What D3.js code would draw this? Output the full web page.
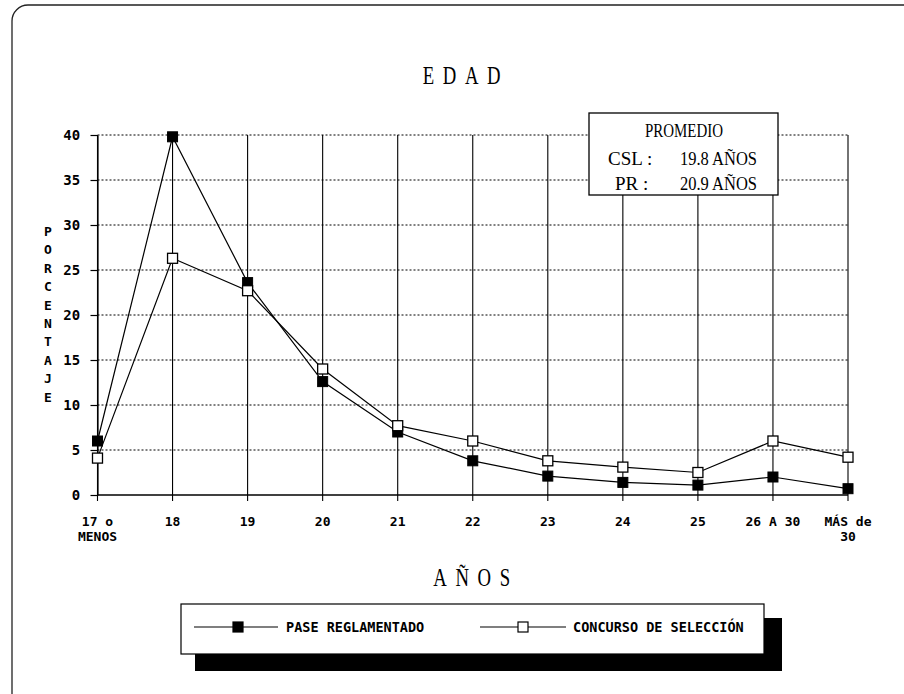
<!DOCTYPE html>
<html>
<head>
<meta charset="utf-8">
<script src="https://cdn.jsdelivr.net/npm/d3@7/dist/d3.min.js"></script>
<style>
  body { margin: 0; background: #fff; }
  svg { display: block; }
</style>
</head>
<body>
<svg id="chart" width="904" height="694"></svg>
<script>
// ---- data ----
const categoryLabels = [["17 o", "MENOS"], ["18"], ["19"], ["20"], ["21"], ["22"], ["23"], ["24"], ["25"], ["26 A 30"], ["MÁS de", "30"]];
const paseReglamentado = [6.0, 39.8, 23.6, 12.6, 7.0, 3.8, 2.1, 1.4, 1.1, 2.0, 0.7];
const concursoSeleccion = [4.1, 26.3, 22.7, 14.0, 7.7, 6.0, 3.8, 3.1, 2.5, 6.0, 4.2];
const yTicks = [0, 5, 10, 15, 20, 25, 30, 35, 40];
const seriesNames = ["PASE REGLAMENTADO", "CONCURSO DE SELECCIÓN"];
const titleText = "EDAD";
const xTitleText = "AÑOS";
const yTitleText = "PORCENTAJE";
const promedioLines = [["PROMEDIO"], ["CSL :", "19.8 AÑOS"], ["PR :", "20.9 AÑOS"]];

const svg = d3.select("#chart");
const labelFont = "'DejaVu Sans Mono', monospace";
const serifFont = "'Liberation Serif', 'DejaVu Serif', serif";

// outer rounded frame
svg.append("rect").attr("x", 12).attr("y", 5).attr("width", 940).attr("height", 740)
  .attr("rx", 16).attr("fill", "none").attr("stroke", "#222").attr("stroke-width", 1.3);

const idx = categoryLabels.map((d, i) => i);
const x = d3.scalePoint().domain(idx).range([97.5, 848]);
const y = d3.scaleLinear().domain([0, 40]).range([495, 135]);

const g = svg.append("g");

// horizontal dotted gridlines
g.selectAll("line.hgrid").data(yTicks.filter(t => t > 0)).join("line")
  .attr("x1", x(0)).attr("x2", x(idx.length - 1))
  .attr("y1", d => y(d)).attr("y2", d => y(d))
  .attr("stroke", "#000").attr("stroke-width", 1).attr("stroke-dasharray", "2,2");

// vertical solid lines
g.selectAll("line.vgrid").data(idx).join("line")
  .attr("x1", d => x(d)).attr("x2", d => x(d))
  .attr("y1", y(40)).attr("y2", y(0) + 6)
  .attr("stroke", "#000").attr("stroke-width", 1.1);

// y axis
const yAxis = d3.axisLeft(y).tickValues(yTicks).tickSize(7).tickSizeOuter(0).tickPadding(9);
const ya = svg.append("g").attr("transform", `translate(${x(0)},0)`).call(yAxis);
ya.select(".domain").attr("stroke", "#000").attr("stroke-width", 1.2);
ya.selectAll(".tick line").attr("stroke", "#000").attr("stroke-width", 1.2);
ya.selectAll(".tick text").attr("font-family", labelFont).attr("font-weight", "bold")
  .attr("font-size", 14).attr("fill", "#000").attr("dx", "-0.1em");

// x axis baseline
svg.append("line").attr("x1", x(0)).attr("x2", x(idx.length - 1))
  .attr("y1", y(0)).attr("y2", y(0)).attr("stroke", "#000").attr("stroke-width", 1.3);

// x tick labels (one text element per line)
const xl = svg.append("g");
idx.forEach(i => {
  categoryLabels[i].forEach((line, k) => {
    xl.append("text").attr("x", x(i)).attr("y", 526 + k * 15)
      .attr("text-anchor", "middle").attr("font-family", labelFont)
      .attr("font-weight", "bold").attr("font-size", 13).attr("fill", "#000").text(line);
  });
});

// lines
const lineGen = d3.line().x((d, i) => x(i)).y(d => y(d));
svg.append("path").datum(paseReglamentado).attr("d", lineGen)
  .attr("fill", "none").attr("stroke", "#000").attr("stroke-width", 1.2);
svg.append("path").datum(concursoSeleccion).attr("d", lineGen)
  .attr("fill", "none").attr("stroke", "#000").attr("stroke-width", 1.2);

const ms = 10;
svg.selectAll("rect.pr").data(paseReglamentado).join("rect")
  .attr("x", (d, i) => x(i) - ms / 2).attr("y", d => y(d) - ms / 2)
  .attr("width", ms).attr("height", ms).attr("fill", "#000").attr("stroke", "#000");
svg.selectAll("rect.csl").data(concursoSeleccion).join("rect")
  .attr("x", (d, i) => x(i) - ms / 2).attr("y", d => y(d) - ms / 2)
  .attr("width", ms).attr("height", ms).attr("fill", "#fff").attr("stroke", "#000").attr("stroke-width", 1.3);

// titles (condensed serif)
svg.append("text").attr("transform", "translate(466,84) scale(0.72,1)").attr("text-anchor", "middle")
  .attr("font-family", serifFont).attr("font-size", 26).attr("letter-spacing", 12)
  .attr("fill", "#000").text(titleText);
svg.append("text").attr("transform", "translate(476,586) scale(0.72,1)").attr("text-anchor", "middle")
  .attr("font-family", serifFont).attr("font-size", 26).attr("letter-spacing", 12)
  .attr("fill", "#000").text(xTitleText);

// y title stacked
svg.append("g").selectAll("text").data(yTitleText.split("")).join("text")
  .attr("x", 48).attr("y", (d, i) => 236 + i * 18.4).attr("text-anchor", "middle")
  .attr("font-family", labelFont).attr("font-weight", "bold").attr("font-size", 13)
  .attr("fill", "#000").text(d => d);

// promedio box
const pb = svg.append("g");
pb.append("rect").attr("x", 589).attr("y", 113).attr("width", 189).attr("height", 82)
  .attr("fill", "#fff").attr("stroke", "#000").attr("stroke-width", 1.3);
pb.append("text").attr("x", 684).attr("y", 137).attr("text-anchor", "middle")
  .attr("font-family", serifFont).attr("font-size", 19).attr("fill", "#000")
  .attr("textLength", 78).attr("lengthAdjust", "spacingAndGlyphs").text(promedioLines[0][0]);
[[1, 165, 608], [2, 190, 615]].forEach(([k, yy, xx]) => {
  pb.append("text").attr("x", xx).attr("y", yy).attr("font-family", serifFont)
    .attr("font-size", 19).attr("fill", "#000").text(promedioLines[k][0]);
  pb.append("text").attr("x", 680).attr("y", yy).attr("font-family", serifFont)
    .attr("font-size", 19).attr("fill", "#000")
    .attr("textLength", 77).attr("lengthAdjust", "spacingAndGlyphs").text(promedioLines[k][1]);
});

// legend
const lg = svg.append("g");
lg.append("rect").attr("x", 195).attr("y", 618).attr("width", 587).attr("height", 53).attr("fill", "#000");
lg.append("rect").attr("x", 181).attr("y", 604).attr("width", 583).attr("height", 50)
  .attr("fill", "#fff").attr("stroke", "#000").attr("stroke-width", 1.2);
const legendItems = [
  { x1: 194, x2: 278, mx: 238, tx: 286, fill: "#000", name: seriesNames[0] },
  { x1: 480, x2: 566, mx: 523, tx: 573, fill: "#fff", name: seriesNames[1] }
];
legendItems.forEach(it => {
  lg.append("line").attr("x1", it.x1).attr("x2", it.x2).attr("y1", 627).attr("y2", 627)
    .attr("stroke", "#000").attr("stroke-width", 1.2);
  lg.append("rect").attr("x", it.mx - 5).attr("y", 622).attr("width", 10).attr("height", 10)
    .attr("fill", it.fill).attr("stroke", "#000").attr("stroke-width", 1.2);
  lg.append("text").attr("x", it.tx).attr("y", 632).attr("font-family", labelFont)
    .attr("font-weight", "bold").attr("font-size", 13.5).attr("fill", "#000").text(it.name);
});
</script>
</body>
</html>
